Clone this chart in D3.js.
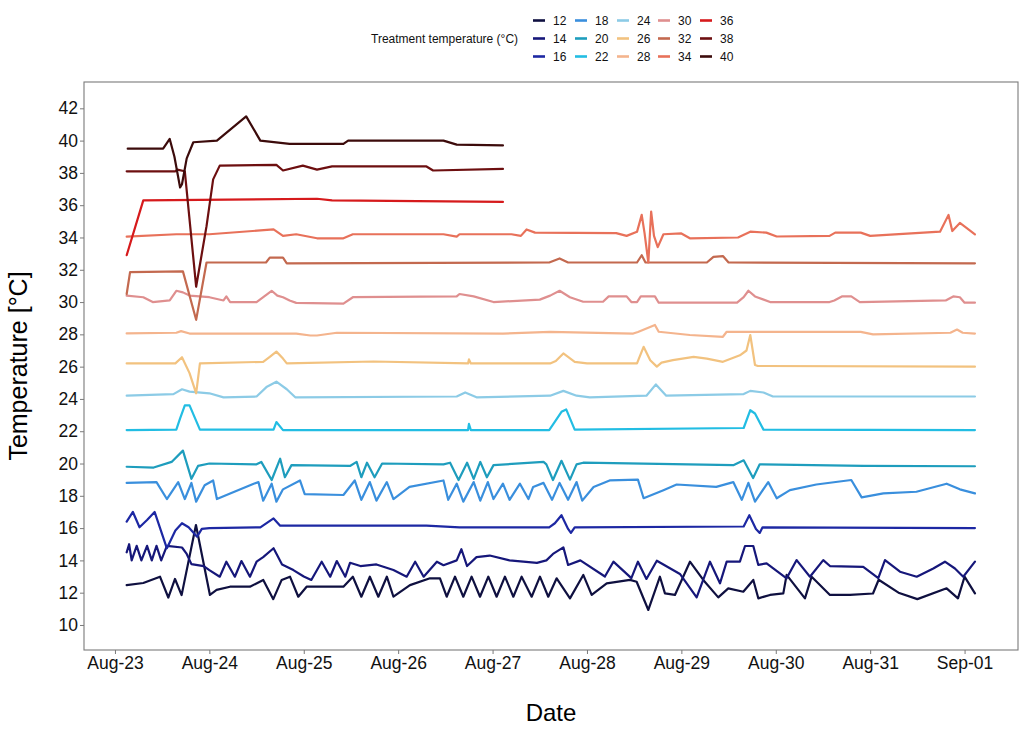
<!DOCTYPE html>
<html>
<head>
<meta charset="utf-8">
<script src="https://cdn.jsdelivr.net/npm/d3@7"></script>
<style>
  html, body { margin: 0; padding: 0; background: #fff; }
  svg { display: block; font-family: "Liberation Sans", Arial, sans-serif; }
</style>
</head>
<body>
<svg id="chart" width="1024" height="731"></svg>
<script>
// ---------------- DATA (day offset from Aug-23 00:00, temperature °C) ----------------
const treatments = [12, 14, 16, 18, 20, 22, 24, 26, 28, 30, 32, 34, 36, 38, 40];
const colors = ["#0f1040", "#16177a", "#1d28a3", "#3a8fdd", "#1e9dbd", "#22bde3", "#8ccbe6", "#f2c27f",
                "#f4b48d", "#df8f8f", "#c3694f", "#e8715a", "#d61a1c", "#6d0f10", "#3c0b0b"];
const tickLabels = ["Aug-23", "Aug-24", "Aug-25", "Aug-26", "Aug-27", "Aug-28", "Aug-29", "Aug-30", "Aug-31", "Sep-01"];
const yTicks = [10, 12, 14, 16, 18, 20, 22, 24, 26, 28, 30, 32, 34, 36, 38, 40, 42];

const t12 = [[0.124,12.47],[0.3,12.6],[0.477,12.99],[0.565,11.7],[0.636,12.85],[0.706,11.85],[0.858,16.19],[1.006,11.86],[1.077,12.17],[1.218,12.37],[1.43,12.37],[1.571,12.79],[1.677,11.6],[1.766,12.79],[1.854,12.99],[1.942,11.75],[2.03,12.37],[2.42,12.37],[2.52,12.99],[2.61,11.75],[2.70,12.99],[2.79,11.75],[2.88,12.99],[2.95,11.75],[3.125,12.47],[3.337,12.89],[3.443,12.89],[3.514,11.75],[3.602,12.99],[3.69,11.75],[3.778,12.99],[3.867,11.75],[3.955,12.99],[4.043,11.75],[4.131,12.99],[4.22,11.75],[4.308,12.99],[4.414,11.75],[4.502,12.99],[4.59,11.75],[4.679,12.89],[4.82,11.65],[4.961,13.1],[5.05,11.86],[5.209,12.58],[5.456,12.79],[5.526,12.68],[5.65,10.93],[5.773,12.99],[5.826,11.96],[5.932,11.86],[6.091,13.92],[6.232,12.79],[6.391,11.71],[6.497,12.27],[6.656,12.06],[6.762,12.79],[6.815,11.65],[6.939,11.86],[7.08,11.96],[7.115,13.1],[7.309,11.65],[7.38,12.99],[7.574,11.86],[7.786,11.86],[8.03,11.95],[8.09,12.8],[8.3,12.0],[8.5,11.6],[8.81,12.27],[8.93,11.65],[9.0,12.99],[9.11,11.96]];
const t14 = [[0.124,14.5],[0.15,15.0],[0.177,14.0],[0.23,14.9],[0.28,14.0],[0.34,14.9],[0.39,14.0],[0.44,14.9],[0.49,14.0],[0.55,14.9],[0.71,14.8],[0.76,14.4],[0.81,13.77],[0.94,13.65],[1.0,13.4],[1.11,12.99],[1.18,13.92],[1.27,12.99],[1.34,13.96],[1.43,12.99],[1.5,13.92],[1.57,14.2],[1.68,14.75],[1.77,13.75],[1.89,13.4],[2.0,13.0],[2.08,12.79],[2.19,13.92],[2.28,12.99],[2.35,13.96],[2.44,12.99],[2.49,13.85],[2.6,13.65],[2.77,13.75],[2.95,13.4],[3.09,12.99],[3.18,13.92],[3.27,12.99],[3.41,13.92],[3.48,13.7],[3.62,14.0],[3.67,14.69],[3.73,13.65],[3.83,14.2],[3.97,14.3],[4.18,14.0],[4.47,13.85],[4.57,14.0],[4.64,14.4],[4.75,14.81],[4.80,13.72],[4.93,14.0],[5.19,13.0],[5.28,13.92],[5.47,12.9],[5.54,13.92],[5.63,12.85],[5.74,13.98],[5.985,13.16],[6.162,11.71],[6.303,13.92],[6.409,12.58],[6.48,13.92],[6.62,13.92],[6.674,14.89],[6.762,14.89],[6.815,13.72],[6.903,13.82],[7.115,12.89],[7.221,14.02],[7.362,12.99],[7.503,14.02],[7.574,13.65],[7.927,13.6],[8.086,12.9],[8.157,14.02],[8.316,13.3],[8.493,12.99],[8.669,13.5],[8.792,13.92],[8.898,13.5],[8.986,12.99],[9.11,13.92]];
const t16 = [[0.124,16.4],[0.19,17.0],[0.26,16.05],[0.34,16.5],[0.42,17.0],[0.55,14.75],[0.64,15.85],[0.71,16.3],[0.78,16.05],[0.87,15.47],[0.92,15.95],[1.0,16.0],[1.54,16.05],[1.68,16.6],[1.75,16.15],[2.5,16.15],[3.3,16.15],[3.65,16.05],[4.6,16.05],[4.66,16.3],[4.73,16.8],[4.8,15.95],[4.83,15.7],[4.87,16.05],[6.66,16.1],[6.72,16.8],[6.79,15.95],[6.83,15.7],[6.86,16.05],[9.11,16.0]];
const t18 = [[0.124,18.8],[0.44,18.85],[0.55,17.8],[0.67,18.85],[0.74,17.8],[0.81,18.8],[0.86,17.64],[0.95,18.65],[1.04,18.95],[1.08,17.8],[1.22,18.15],[1.47,18.75],[1.52,18.85],[1.57,17.7],[1.66,18.75],[1.71,17.64],[1.78,18.4],[1.96,18.95],[2.01,18.1],[2.42,18.05],[2.54,18.95],[2.61,17.75],[2.7,18.85],[2.77,17.7],[2.88,18.85],[2.95,17.8],[3.12,18.55],[3.48,18.95],[3.53,17.75],[3.62,18.75],[3.69,17.64],[3.8,18.85],[3.87,17.7],[3.95,18.85],[4.01,17.8],[4.11,18.75],[4.18,17.75],[4.29,18.75],[4.38,17.8],[4.43,18.55],[4.54,18.8],[4.63,17.75],[4.71,18.8],[4.8,17.75],[4.89,18.85],[4.95,17.7],[5.07,18.55],[5.24,18.95],[5.54,19.0],[5.6,17.85],[5.81,18.35],[5.95,18.7],[6.37,18.55],[6.55,18.85],[6.64,17.75],[6.71,18.8],[6.78,17.64],[6.92,18.85],[7.01,17.85],[7.15,18.35],[7.43,18.7],[7.8,18.98],[7.91,17.9],[8.14,18.15],[8.49,18.25],[8.81,18.75],[8.95,18.4],[9.11,18.15]];
const t20 = [[0.124,19.8],[0.41,19.75],[0.6,20.1],[0.72,20.8],[0.81,19.05],[0.88,19.85],[1.0,20.0],[1.5,19.95],[1.55,20.1],[1.66,18.98],[1.75,20.3],[1.8,19.15],[1.87,19.9],[2.49,19.85],[2.56,20.1],[2.61,19.15],[2.67,20.05],[2.75,19.15],[2.83,20.0],[3.48,19.95],[3.55,20.05],[3.64,18.98],[3.73,20.05],[3.8,19.05],[3.87,20.1],[3.94,19.15],[4.01,19.9],[4.54,20.1],[4.57,19.95],[4.64,18.98],[4.73,20.17],[4.82,19.0],[4.89,19.95],[4.96,20.05],[6.55,19.9],[6.66,20.2],[6.76,19.1],[6.83,19.95],[7.93,19.85],[9.11,19.83]];
const t22 = [[0.124,22.07],[0.65,22.1],[0.69,22.8],[0.74,23.6],[0.79,23.6],[0.9,22.1],[1.68,22.1],[1.71,22.57],[1.78,22.07],[3.74,22.07],[3.75,22.45],[3.77,22.07],[4.6,22.07],[4.65,22.5],[4.73,23.2],[4.78,23.35],[4.87,22.1],[6.66,22.2],[6.73,23.3],[6.78,23.1],[6.87,22.1],[9.11,22.07]];
const t24 = [[0.124,24.2],[0.62,24.3],[0.71,24.6],[0.79,24.45],[1.0,24.35],[1.15,24.1],[1.5,24.15],[1.61,24.76],[1.71,25.07],[1.82,24.6],[1.91,24.1],[3.62,24.15],[3.71,24.4],[3.83,24.1],[4.61,24.2],[4.75,24.5],[4.89,24.2],[5.03,24.1],[5.63,24.2],[5.73,24.9],[5.84,24.2],[6.66,24.3],[6.73,24.5],[6.87,24.4],[6.97,24.15],[9.11,24.15]];
const t26 = [[0.124,26.2],[0.64,26.2],[0.71,26.58],[0.79,25.6],[0.86,24.35],[0.9,26.2],[1.57,26.3],[1.64,26.6],[1.71,26.93],[1.78,26.5],[1.82,26.2],[2.74,26.32],[3.74,26.2],[3.75,26.45],[3.77,26.2],[4.61,26.2],[4.67,26.35],[4.75,26.82],[4.87,26.3],[5.0,26.2],[5.53,26.2],[5.55,26.5],[5.6,27.23],[5.67,26.4],[5.74,26.0],[5.79,26.25],[5.91,26.4],[6.13,26.6],[6.27,26.5],[6.44,26.3],[6.62,26.7],[6.69,27.0],[6.73,27.96],[6.78,26.1],[6.81,26.04],[9.11,26.0]];
const t28 = [[0.124,28.06],[0.65,28.1],[0.7,28.2],[0.79,28.05],[1.92,28.05],[2.07,27.93],[2.14,27.93],[2.35,28.1],[4.11,28.05],[4.61,28.15],[5.49,28.05],[5.54,28.15],[5.72,28.58],[5.76,28.16],[6.09,27.96],[6.44,27.85],[6.48,28.16],[7.9,28.15],[8.03,28.0],[8.85,28.1],[8.92,28.3],[8.98,28.1],[9.11,28.05]];
const t30 = [[0.124,30.4],[0.3,30.3],[0.4,30.0],[0.58,30.1],[0.65,30.7],[0.72,30.6],[0.79,30.4],[1.0,30.3],[1.15,30.1],[1.18,30.35],[1.22,30.0],[1.5,30.0],[1.66,30.7],[1.72,30.4],[1.78,30.3],[1.85,30.1],[1.92,29.95],[2.42,29.9],[2.52,30.3],[3.62,30.35],[3.65,30.5],[3.8,30.35],[4.01,30.0],[4.5,30.15],[4.61,30.4],[4.71,30.7],[4.82,30.3],[4.96,30.02],[5.17,30.02],[5.23,30.35],[5.42,30.35],[5.47,30.0],[5.53,30.0],[5.57,30.35],[5.72,30.35],[5.76,29.96],[6.59,29.96],[6.66,30.3],[6.71,30.7],[6.78,30.35],[6.94,30.0],[7.57,30.0],[7.62,30.1],[7.7,30.35],[7.8,30.35],[7.89,30.0],[8.8,30.1],[8.88,30.35],[8.95,30.3],[9.0,29.96],[9.11,29.96]];
const t32 = [[0.124,30.5],[0.16,31.85],[0.72,31.9],[0.86,28.9],[0.97,32.45],[1.6,32.45],[1.64,32.75],[1.78,32.75],[1.82,32.4],[4.6,32.45],[4.71,32.7],[4.8,32.45],[5.53,32.45],[5.58,32.9],[5.62,32.45],[6.27,32.45],[6.34,32.8],[6.44,32.85],[6.5,32.45],[9.11,32.4]];
const t34 = [[0.124,34.05],[0.65,34.2],[1.0,34.2],[1.68,34.5],[1.78,34.1],[1.92,34.2],[2.14,33.95],[2.42,33.95],[2.52,34.2],[3.48,34.2],[3.62,34.05],[3.65,34.2],[4.2,34.2],[4.3,34.1],[4.36,34.5],[4.45,34.3],[5.31,34.27],[5.42,34.1],[5.53,34.35],[5.58,35.4],[5.61,34.27],[5.65,32.45],[5.68,35.6],[5.71,34.1],[5.75,33.4],[5.81,34.2],[6.0,34.25],[6.09,33.95],[6.6,34.0],[6.73,34.36],[6.9,34.3],[7.01,34.06],[7.57,34.1],[7.63,34.3],[7.9,34.3],[8.0,34.1],[8.74,34.36],[8.83,35.4],[8.87,34.4],[8.95,34.9],[9.02,34.6],[9.11,34.2]];
const t36 = [[0.124,32.9],[0.30,36.3],[2.14,36.4],[2.3,36.3],[4.11,36.2]];
const t38 = [[0.124,38.1],[0.64,38.1],[0.66,38.2],[0.74,38.1],[0.86,30.95],[0.97,34.7],[1.04,37.6],[1.11,38.45],[1.71,38.5],[1.78,38.15],[1.99,38.45],[2.14,38.2],[2.3,38.4],[3.3,38.4],[3.37,38.15],[4.11,38.25]];
const t40 = [[0.135,39.5],[0.51,39.5],[0.58,40.1],[0.63,39.0],[0.69,37.1],[0.71,37.3],[0.76,38.9],[0.83,39.9],[1.08,40.0],[1.39,41.5],[1.54,40.0],[1.85,39.8],[2.42,39.8],[2.47,40.0],[3.48,40.0],[3.62,39.75],[4.11,39.7]];

const seriesValues = [t12, t14, t16, t18, t20, t22, t24, t26, t28, t30, t32, t34, t36, t38, t40];

// ---------------- LAYOUT ----------------
const svg = d3.select("#chart");
const panel = { left: 84, top: 82, right: 1018, bottom: 650 };
const base = Date.UTC(2021, 7, 23);
const DAY = 86400000;
const toDate = d => new Date(base + d * DAY);

const x = d3.scaleUtc()
  .domain([toDate(-0.328), toDate(9.566)])
  .range([panel.left, panel.right]);
const y = d3.scaleLinear()
  .domain([8.45, 43.63])
  .range([panel.bottom, panel.top]);

const color = d3.scaleOrdinal().domain(treatments).range(colors);

// panel background
svg.append("rect").attr("x", panel.left).attr("y", panel.top)
  .attr("width", panel.right - panel.left).attr("height", panel.bottom - panel.top)
  .attr("fill", "#fff");

// lines
const line = d3.line().x(d => x(toDate(d[0]))).y(d => y(d[1])).curve(d3.curveLinear);
const gLines = svg.append("g");
treatments.forEach((t, i) => {
  gLines.append("path")
    .datum(seriesValues[i])
    .attr("d", line)
    .attr("fill", "none")
    .attr("stroke", color(t))
    .attr("stroke-width", 2.2)
    .attr("stroke-linejoin", "round")
    .attr("stroke-linecap", "round");
});

// panel border
svg.append("rect").attr("x", panel.left).attr("y", panel.top)
  .attr("width", panel.right - panel.left).attr("height", panel.bottom - panel.top)
  .attr("fill", "none").attr("stroke", "#7a7a7a").attr("stroke-width", 1.1);

// axes
const xTickDates = tickLabels.map((s, i) => toDate(i));
const xAxis = d3.axisBottom(x).tickValues(xTickDates)
  .tickFormat((d, i) => tickLabels[i]).tickSize(4).tickPadding(3);
const gx = svg.append("g").attr("transform", `translate(0,${panel.bottom})`).call(xAxis);
gx.select(".domain").remove();
gx.selectAll(".tick line").attr("stroke", "#7a7a7a");
gx.selectAll(".tick text").attr("fill", "#111").style("font-size", "17.5px")
  .style("font-family", "'Liberation Sans', Arial, sans-serif");

const yAxis = d3.axisLeft(y).tickValues(yTicks).tickFormat(d3.format("d")).tickSize(4).tickPadding(2);
const gy = svg.append("g").attr("transform", `translate(${panel.left},0)`).call(yAxis);
gy.select(".domain").remove();
gy.selectAll(".tick line").attr("stroke", "#7a7a7a");
gy.selectAll(".tick text").attr("fill", "#111").style("font-size", "17.5px")
  .style("font-family", "'Liberation Sans', Arial, sans-serif");

// axis titles
svg.append("text").attr("x", (panel.left + panel.right) / 2).attr("y", 721)
  .attr("text-anchor", "middle").style("font-size", "24px").attr("fill", "#000").text("Date");
svg.append("text").attr("transform", `translate(27,${(panel.top + panel.bottom) / 2}) rotate(-90)`)
  .attr("text-anchor", "middle").style("font-size", "25px").attr("fill", "#000").text("Temperature [°C]");

// legend
const legend = svg.append("g");
legend.append("text").attr("x", 371).attr("y", 38.5).attr("dy", "0.35em")
  .style("font-size", "12px").attr("fill", "#111").text("Treatment temperature (°C)");
const colX = [553, 595, 637, 678, 720];
const rowY = [20.5, 38.5, 56.5];
treatments.forEach((t, i) => {
  const c = Math.floor(i / 3), r = i % 3;
  const lx = colX[c], ly = rowY[r];
  legend.append("line").attr("x1", lx - 20).attr("x2", lx - 8).attr("y1", ly).attr("y2", ly)
    .attr("stroke", color(t)).attr("stroke-width", 2.6);
  legend.append("text").attr("x", lx).attr("y", ly).attr("dy", "0.35em")
    .style("font-size", "12px").attr("fill", "#111").text(t);
});
</script>
</body>
</html>
